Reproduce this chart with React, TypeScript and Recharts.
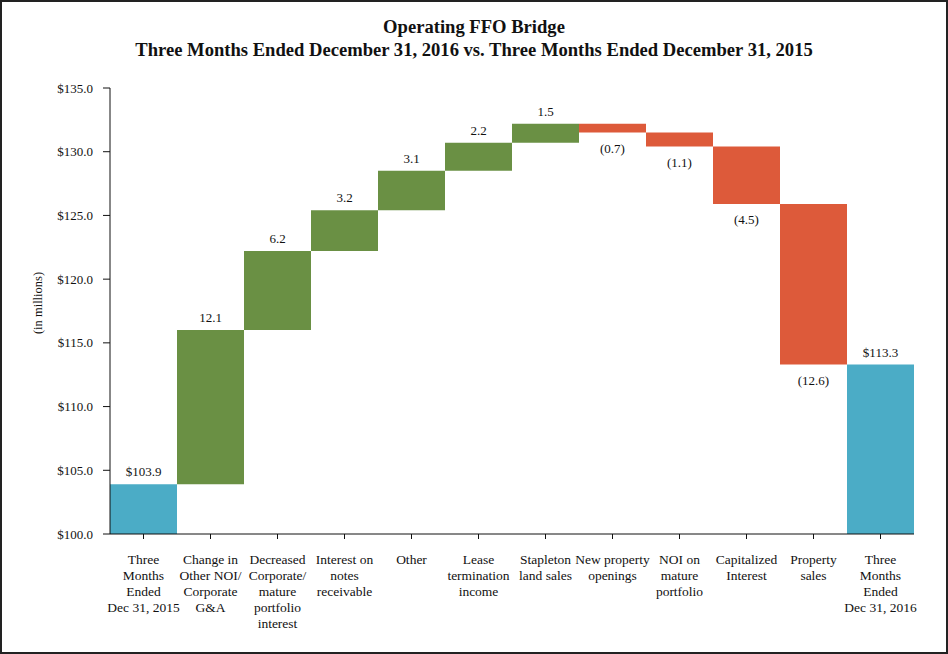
import { Bar, BarChart, Cell, LabelList, XAxis, YAxis } from "recharts"

const categories = [
  "Three Months Ended Dec 31, 2015",
  "Change in Other NOI/ Corporate G&A",
  "Decreased Corporate/ mature portfolio interest",
  "Interest on notes receivable",
  "Other",
  "Lease termination income",
  "Stapleton land sales",
  "New property openings",
  "NOI on mature portfolio",
  "Capitalized Interest",
  "Property sales",
  "Three Months Ended Dec 31, 2016",
]

const categoryLines = [
  ["Three", "Months", "Ended", "Dec 31, 2015"],
  ["Change in", "Other NOI/", "Corporate", "G&A"],
  ["Decreased", "Corporate/", "mature", "portfolio", "interest"],
  ["Interest on", "notes", "receivable"],
  ["Other"],
  ["Lease", "termination", "income"],
  ["Stapleton", "land sales"],
  ["New property", "openings"],
  ["NOI on", "mature", "portfolio"],
  ["Capitalized", "Interest"],
  ["Property", "sales"],
  ["Three", "Months", "Ended", "Dec 31, 2016"],
]

const startTotal = 103.9
const changes = [12.1, 6.2, 3.2, 3.1, 2.2, 1.5, -0.7, -1.1, -4.5, -12.6]
const endTotal = 113.3

const yTicks = [100, 105, 110, 115, 120, 125, 130, 135]

const BLUE = "#4BACC6"
const GREEN = "#6A9044"
const RED = "#DD5A3A"
const FONT = "'Liberation Serif', 'Times New Roman', serif"

type Row = { name: string; range: [number, number]; kind: "total" | "up" | "down"; label: string }

const rows: Row[] = []
rows.push({ name: categories[0], range: [yTicks[0], startTotal], kind: "total", label: `$${startTotal.toFixed(1)}` })
let running = startTotal
changes.forEach((c, i) => {
  const next = running + c
  rows.push({
    name: categories[i + 1],
    range: [Math.min(running, next), Math.max(running, next)],
    kind: c >= 0 ? "up" : "down",
    label: c >= 0 ? c.toFixed(1) : `(${Math.abs(c).toFixed(1)})`,
  })
  running = next
})
rows.push({ name: categories[11], range: [yTicks[0], endTotal], kind: "total", label: `$${endTotal.toFixed(1)}` })

const colorOf = (k: Row["kind"]) => (k === "total" ? BLUE : k === "up" ? GREEN : RED)

function CategoryTick(props: any) {
  const { x, y, payload } = props
  const lines = categoryLines[payload.index] || [payload.value]
  return (
    <text x={x} y={y + 23} textAnchor="middle" fontFamily={FONT} fontSize={13.5} fill="#111">
      {lines.map((l, i) => (
        <tspan key={i} x={x} dy={i === 0 ? 0 : 16}>
          {l}
        </tspan>
      ))}
    </text>
  )
}

function BarLabel(props: any) {
  const { x, y, width, height, index } = props
  const row = rows[index]
  const top = Math.min(y, y + height)
  const bottom = Math.max(y, y + height)
  const ty = row.kind === "down" ? bottom + 20 : top - 8
  return (
    <text x={x + width / 2} y={ty} textAnchor="middle" fontFamily={FONT} fontSize={13} fill="#111">
      {row.label}
    </text>
  )
}

export default function App() {
  return (
    <div style={{ position: "fixed", left: 0, top: 0, width: 948, height: 654, background: "#fff" }}>
      <div
        style={{
          position: "absolute",
          left: 0,
          top: 0,
          width: 948,
          height: 654,
          boxSizing: "border-box",
          border: "2px solid #222",
          pointerEvents: "none",
        }}
      />
      <div
        style={{
          position: "absolute",
          left: 0,
          top: 15,
          width: 948,
          textAlign: "center",
          fontFamily: FONT,
          fontWeight: "bold",
          fontSize: 18.6,
          lineHeight: "23px",
          color: "#111",
        }}
      >
        <div>Operating FFO Bridge</div>
        <div>Three Months Ended December 31, 2016 vs. Three Months Ended December 31, 2015</div>
      </div>
      <div
        style={{
          position: "absolute",
          left: 38,
          top: 303,
          transform: "translate(-50%, -50%) rotate(-90deg)",
          fontFamily: FONT,
          fontSize: 12.5,
          color: "#111",
          whiteSpace: "nowrap",
        }}
      >
        (in millions)
      </div>
      <div style={{ position: "absolute", left: 0, top: 0 }}>
        <BarChart
          width={948}
          height={654}
          data={rows}
          barCategoryGap={0}
          margin={{ top: 88, right: 34, bottom: 0, left: 50 }}
        >
          <XAxis
            dataKey="name"
            interval={0}
            height={120}
            axisLine={{ stroke: "#111" }}
            tickLine={{ stroke: "#111" }}
            tickSize={5}
            tick={<CategoryTick />}
          />
          <YAxis
            width={60}
            domain={[100, 135]}
            ticks={yTicks}
            allowDataOverflow
            axisLine={{ stroke: "#111" }}
            tickLine={{ stroke: "#111" }}
            tickSize={7}
            tickMargin={10}
            tickFormatter={(v: number) => `$${v.toFixed(1)}`}
            tick={{ fontFamily: FONT, fontSize: 13, fill: "#111" }}
          />
          <Bar dataKey="range" isAnimationActive={false}>
            {rows.map((r, i) => (
              <Cell key={i} fill={colorOf(r.kind)} />
            ))}
            <LabelList dataKey="range" content={<BarLabel />} />
          </Bar>
        </BarChart>
      </div>
    </div>
  )
}
